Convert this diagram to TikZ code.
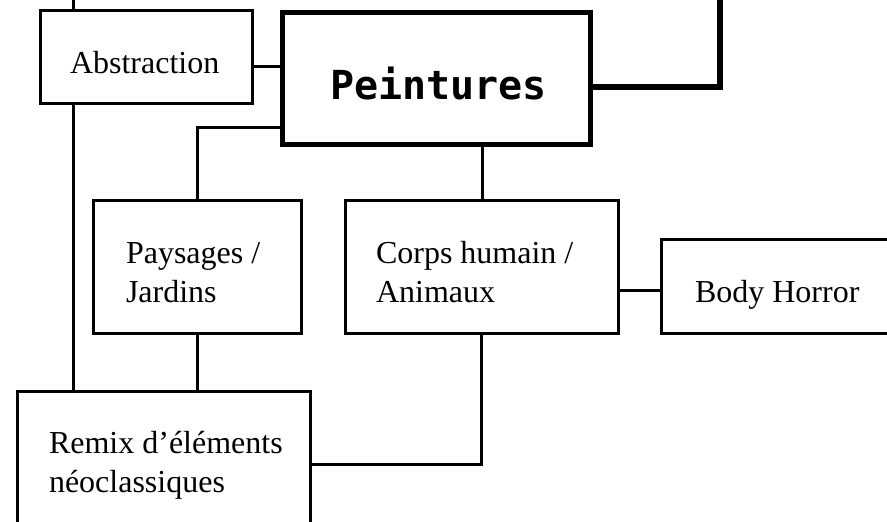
\documentclass[tikz,border=0pt]{standalone}
\usepackage{fontspec}
\setmainfont{Liberation Serif}
\newfontfamily\pmono{DejaVu Sans Mono}
\begin{document}
\begin{tikzpicture}[x=1pt,y=-1pt,
  box/.style={draw=black,line width=3pt,rectangle,inner sep=0pt,outer sep=0pt,fill=white},
  mainbox/.style={box,line width=5.5pt},
  conn/.style={draw=black,line width=3pt},
  thickconn/.style={draw=black,line width=6.5pt},
  lbl/.style={anchor=base west,inner sep=0pt,outer sep=0pt,align=left,
    font=\fontsize{32}{39}\selectfont},
  mlbl/.style={anchor=base west,inner sep=0pt,outer sep=0pt,
    font=\pmono\bfseries\fontsize{40}{44}\selectfont}]
\useasboundingbox (0,0) rectangle (887,522);
\clip (0,0) rectangle (887,522);
\fill[white] (0,0) rectangle (887,522);
% boxes
\node[box,minimum width=212pt,minimum height=93pt] (A) at (146,56.5) {};
\node[mainbox,minimum width=308pt,minimum height=132pt] (P) at (436.5,78.5) {};
\node[box,minimum width=208pt,minimum height=133pt] (Pa) at (197,266.5) {};
\node[box,minimum width=273pt,minimum height=133pt] (C) at (481.5,266.5) {};
\node[box,minimum width=260pt,minimum height=94pt] (B) at (791,286) {};
\node[box,minimum width=293pt,minimum height=170pt] (R) at (163.5,476) {};
% free ends
\coordinate (topA) at (73,-5);
\coordinate (topP) at (720,-5);
% connectors
\draw[conn] (topA) -- (A.north -| topA);
\draw[conn] (A.east |- 0,66) -- (P.west |- 0,66);
\draw[conn] (A.south -| topA) -- (R.north -| topA);
\draw[conn] (P.west |- 0,127) -| (Pa.north);
\draw[conn] (P.south -| 482,0) -- (C.north -| 482,0);
\draw[conn] (Pa.south) -- (R.north -| Pa.south);
\draw[conn] (C.south -| 481,0) |- (R.east |- 0,464);
\draw[conn] (C.east |- 0,290) -- (B.west |- 0,290);
\draw[thickconn] (P.east |- 0,87) -| (topP);
% labels (base anchor of a multi-line node is its last line)
\node[lbl] (tA) at (70,73) {Abstraction};
\node[mlbl] (tP) at (330,99) {Peintures};
\node[lbl] (tPa) at (126,302) {Paysages /\\Jardins};
\node[lbl] (tC) at (376,302) {Corps humain /\\Animaux};
\node[lbl] (tB) at (695,302) {Body Horror};
\node[lbl] (tR) at (49,492) {Remix d’éléments\\néoclassiques};
\end{tikzpicture}
\end{document}
